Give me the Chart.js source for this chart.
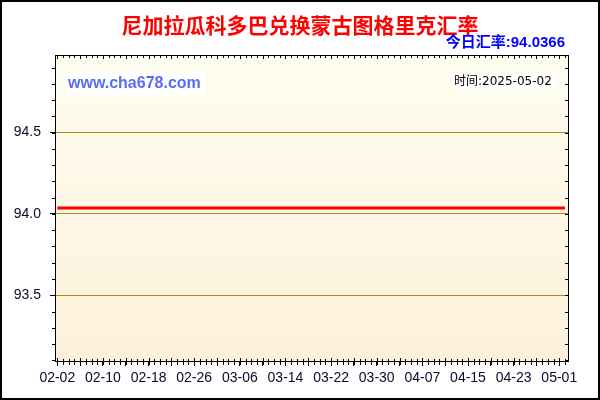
<!DOCTYPE html>
<html>
<head>
<meta charset="utf-8">
<script src="https://cdn.jsdelivr.net/npm/chart.js@4/dist/chart.umd.min.js"></script>
<style>
  html, body { margin: 0; padding: 0; background: #fff; }
  #myChart { display: block; }
</style>
</head>
<body>
<canvas id="myChart" width="600" height="400"></canvas>
<script>
// data
const title = "尼加拉瓜科多巴兑换蒙古图格里克汇率";
const todayRate = "今日汇率:94.0366";
const siteText = "www.cha678.com";
const timeText = "时间:2025-05-02";

const dates = [
  "02-02", "02-03", "02-04", "02-05", "02-06", "02-07", "02-08", "02-09", "02-10", "02-11",
  "02-12", "02-13", "02-14", "02-15", "02-16", "02-17", "02-18", "02-19", "02-20", "02-21",
  "02-22", "02-23", "02-24", "02-25", "02-26", "02-27", "02-28", "03-01", "03-02", "03-03",
  "03-04", "03-05", "03-06", "03-07", "03-08", "03-09", "03-10", "03-11", "03-12", "03-13",
  "03-14", "03-15", "03-16", "03-17", "03-18", "03-19", "03-20", "03-21", "03-22", "03-23",
  "03-24", "03-25", "03-26", "03-27", "03-28", "03-29", "03-30", "03-31", "04-01", "04-02",
  "04-03", "04-04", "04-05", "04-06", "04-07", "04-08", "04-09", "04-10", "04-11", "04-12",
  "04-13", "04-14", "04-15", "04-16", "04-17", "04-18", "04-19", "04-20", "04-21", "04-22",
  "04-23", "04-24", "04-25", "04-26", "04-27", "04-28", "04-29", "04-30", "05-01", "05-02",
];

const rates = [
  94.0366, 94.0366, 94.0366, 94.0366, 94.0366, 94.0366, 94.0366, 94.0366, 94.0366, 94.0366,
  94.0366, 94.0366, 94.0366, 94.0366, 94.0366, 94.0366, 94.0366, 94.0366, 94.0366, 94.0366,
  94.0366, 94.0366, 94.0366, 94.0366, 94.0366, 94.0366, 94.0366, 94.0366, 94.0366, 94.0366,
  94.0366, 94.0366, 94.0366, 94.0366, 94.0366, 94.0366, 94.0366, 94.0366, 94.0366, 94.0366,
  94.0366, 94.0366, 94.0366, 94.0366, 94.0366, 94.0366, 94.0366, 94.0366, 94.0366, 94.0366,
  94.0366, 94.0366, 94.0366, 94.0366, 94.0366, 94.0366, 94.0366, 94.0366, 94.0366, 94.0366,
  94.0366, 94.0366, 94.0366, 94.0366, 94.0366, 94.0366, 94.0366, 94.0366, 94.0366, 94.0366,
  94.0366, 94.0366, 94.0366, 94.0366, 94.0366, 94.0366, 94.0366, 94.0366, 94.0366, 94.0366,
  94.0366, 94.0366, 94.0366, 94.0366, 94.0366, 94.0366, 94.0366, 94.0366, 94.0366, 94.0366,
];

const yTicks = [93.5, 94.0, 94.5];
const yMin = 93.0962;
const yMax = 94.977;
const xTickEvery = 4;
const xLabelEvery = 8;

// background, frame, minor ticks, texts
const decor = {
  id: "decor",
  beforeDraw(chart) {
    const { ctx, chartArea: a } = chart;
    ctx.save();
    ctx.fillStyle = "#ffffff";
    ctx.fillRect(0, 0, chart.width, chart.height);
    const g = ctx.createLinearGradient(0, a.top, 0, a.bottom);
    g.addColorStop(0, "#fefdf0");
    g.addColorStop(1, "#fdf1da");
    ctx.fillStyle = g;
    ctx.fillRect(a.left, a.top, a.right - a.left, a.bottom - a.top);
    ctx.restore();
  },
  afterDraw(chart) {
    const { ctx, chartArea: a, scales } = chart;
    const x = scales.x, y = scales.y;
    ctx.save();
    ctx.strokeStyle = "#000";
    ctx.lineWidth = 1;
    ctx.strokeRect(Math.round(a.left) + 0.5, Math.round(a.top) + 0.5,
      Math.round(a.right - a.left), Math.round(a.bottom - a.top));

    // day ticks, top and bottom
    ctx.beginPath();
    for (let i = 0; i < dates.length; i++) {
      const px = Math.round(x.getPixelForValue(i)) + 0.5;
      const big = i % xTickEvery === 0;
      ctx.moveTo(px, a.bottom - (big ? 3 : 2));
      ctx.lineTo(px, a.bottom + 4);
      ctx.moveTo(px, a.top);
      ctx.lineTo(px, a.top + (big ? 4 : 3));
    }
    // 0.1 ticks, left and right
    for (let k = Math.ceil(yMin * 10); k <= Math.floor(yMax * 10); k++) {
      const py = Math.round(y.getPixelForValue(k / 10)) + 0.5;
      ctx.moveTo(a.left - 3, py);
      ctx.lineTo(a.left, py);
      ctx.moveTo(a.right, py);
      ctx.lineTo(a.right - 3, py);
    }
    ctx.stroke();

    // outer frame
    ctx.lineWidth = 2;
    ctx.strokeRect(1, 1, chart.width - 2, chart.height - 2);

    // titles
    ctx.textBaseline = "middle";
    ctx.textAlign = "center";
    ctx.fillStyle = "#ff0000";
    ctx.font = "bold 21px 'Noto Sans CJK SC'";
    ctx.fillText(title, 300, 25);

    ctx.textAlign = "right";
    ctx.fillStyle = "#0000ff";
    ctx.font = "bold 15px 'Liberation Sans', 'Noto Sans CJK SC'";
    ctx.fillText(todayRate, 565, 43);

    // watermark
    ctx.textAlign = "left";
    ctx.fillStyle = "#ffffff";
    ctx.fillRect(66, 72, 140, 23);
    ctx.fillStyle = "#5a6cf2";
    ctx.font = "bold 16px 'Liberation Sans'";
    ctx.fillText(siteText, 68, 84);

    ctx.fillStyle = "#ffffff";
    ctx.fillRect(453, 74, 104, 15);
    ctx.fillStyle = "#000000";
    ctx.font = "12px 'DejaVu Sans', 'Noto Sans CJK SC'";
    ctx.fillText(timeText, 454, 82);
    ctx.restore();
  },
};

const data = {
  datasets: [
    {
      label: "汇率",
      data: rates.map((v, i) => ({ x: i, y: v })),
      borderColor: "#ff0000",
      borderWidth: 3,
      pointRadius: 0,
      fill: false,
      tension: 0,
    },
  ],
};

const config = {
  type: "line",
  data,
  plugins: [decor],
  options: {
    responsive: false,
    animation: false,
    devicePixelRatio: 1,
    layout: {
      padding: { left: 0, right: 32, top: 55, bottom: 0 },
    },
    scales: {
      x: {
        type: "linear",
        min: -0.4,
        max: dates.length - 1 + 0.53,
        afterFit: (s) => { s.height = 39; },
        afterBuildTicks: (s) => {
          s.ticks = dates
            .map((d, i) => i)
            .filter((i) => i % xTickEvery === 0)
            .map((i) => ({ value: i }));
        },
        grid: {
          drawOnChartArea: false,
          drawTicks: true,
          tickLength: 5,
          tickColor: "#000",
        },
        border: { display: true, color: "#000" },
        ticks: {
          autoSkip: false,
          maxRotation: 0,
          padding: 4,
          color: "#0a0a2a",
          font: { size: 14, family: "'Liberation Sans', Arial, sans-serif" },
          callback: (v) => (v % xLabelEvery === 0 ? dates[v] : ""),
        },
      },
      y: {
        min: yMin,
        max: yMax,
        afterFit: (s) => { s.width = 55; },
        afterBuildTicks: (s) => {
          s.ticks = yTicks.map((v) => ({ value: v }));
        },
        grid: {
          color: "#b8860b",
          lineWidth: 1,
          drawTicks: true,
          tickLength: 5,
          tickColor: "#000",
        },
        border: { display: true, color: "#000" },
        ticks: {
          padding: 9,
          color: "#0a0a2a",
          font: { size: 14, family: "'Liberation Sans', Arial, sans-serif" },
          callback: (v) => v.toFixed(1),
        },
      },
    },
    plugins: {
      legend: { display: false },
      title: { display: false },
      tooltip: { enabled: false },
    },
  },
};

const myChart = new Chart(document.getElementById("myChart"), config);
</script>
</body>
</html>
